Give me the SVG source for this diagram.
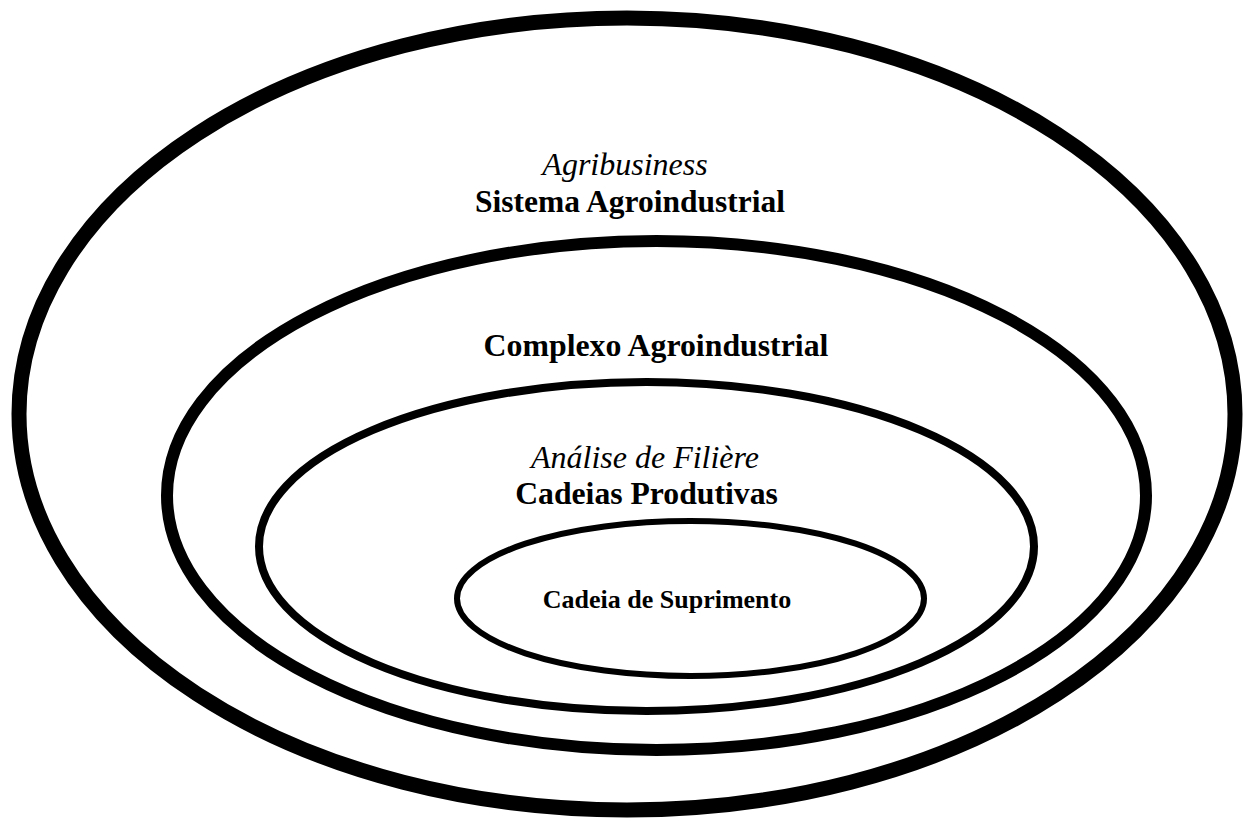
<svg xmlns="http://www.w3.org/2000/svg" width="1246" height="821" viewBox="0 0 1246 821">
<style>
.ring{fill:none;stroke:#000}
.t{font-family:"Liberation Serif","Times New Roman",serif;fill:#000;text-anchor:middle}
.b{font-weight:bold}
.i{font-style:italic}
</style>
<rect width="1246" height="821" fill="#fff"/>
<g id="agribusiness">
<ellipse class="ring" cx="627" cy="414" rx="608" ry="396" stroke-width="15"/>
<text class="t i" x="625" y="175" font-size="32">Agribusiness</text>
<text class="t b" x="630" y="212" font-size="31.5">Sistema Agroindustrial</text>
</g>
<g id="complexo">
<ellipse class="ring" cx="656.5" cy="495.5" rx="489.5" ry="254.5" stroke-width="12"/>
<text class="t b" x="656" y="356" font-size="31.8">Complexo Agroindustrial</text>
</g>
<g id="cadeias">
<ellipse class="ring" cx="646.5" cy="546.5" rx="387.5" ry="164.5" stroke-width="8"/>
<text class="t i" x="645" y="468" font-size="32">Análise de Filière</text>
<text class="t b" x="646.5" y="504" font-size="31.7">Cadeias Produtivas</text>
</g>
<g id="suprimento">
<ellipse class="ring" cx="690.5" cy="598.5" rx="233.5" ry="77.5" stroke-width="6"/>
<text class="t b" x="667" y="608" font-size="26">Cadeia de Suprimento</text>
</g>
<g id="connectors"/>
</svg>
